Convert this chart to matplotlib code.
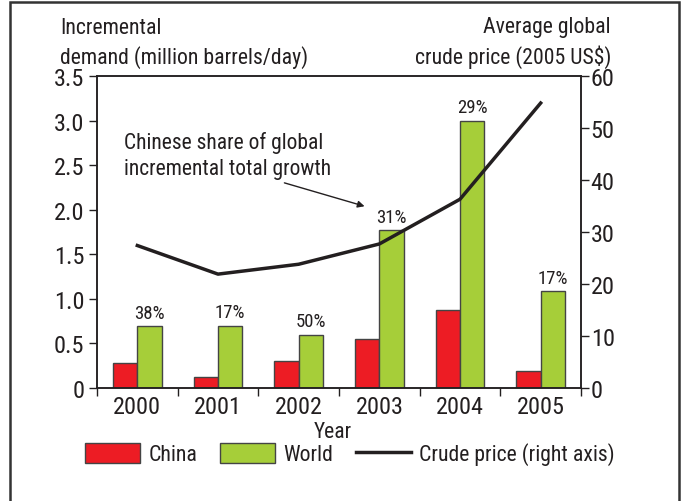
import numpy as np
import matplotlib.pyplot as plt
from matplotlib import font_manager
from matplotlib.patches import Patch, Rectangle
from matplotlib.lines import Line2D

# escolhe uma fonte estreita, se houver
fontes = font_manager.fontManager.ttflist
nomes = {f.name for f in fontes}
estreita = [f for f in fontes if f.name == 'DejaVu Sans' and 'condensed' in str(f.stretch)]
if 'Liberation Sans Narrow' in nomes:
    plt.rcParams['font.family'] = ['Liberation Sans Narrow', 'DejaVu Sans']
elif 'Roboto Condensed' in nomes:
    plt.rcParams['font.family'] = ['Roboto Condensed', 'DejaVu Sans']
elif estreita:
    plt.rcParams['font.family'] = ['DejaVu Sans']
    plt.rcParams['font.stretch'] = 'condensed'
else:
    plt.rcParams['font.family'] = ['Roboto', 'DejaVu Sans']

anos = ['2000', '2001', '2002', '2003', '2004', '2005']
china = [0.28, 0.12, 0.30, 0.55, 0.87, 0.19]
mundo = [0.69, 0.70, 0.60, 1.77, 3.00, 1.09]
preco = [27.4, 21.9, 23.8, 27.7, 36.3, 54.8]
parcela = ['38%', '17%', '50%', '31%', '29%', '17%']

vermelho = '#ED1C24'
verde = '#A6CE39'
borda = '#444444'
tinta = '#231f20'

W, H = 684, 502
fig = plt.figure(figsize=(W/100, H/100), dpi=100)
ax = fig.add_axes([97/W, 113/H, 484/W, 312/H])

x = np.arange(len(anos))
w = 0.3
ax.bar(x - w/2, china, w, color=vermelho, edgecolor=borda, linewidth=1)
ax.bar(x + w/2, mundo, w, color=verde, edgecolor=borda, linewidth=1)
for xi, v, p in zip(x, mundo, parcela):
    ax.annotate(p, (xi + w/2, v), xytext=(0, 3), textcoords='offset points',
                ha='center', va='bottom', fontsize=13.5, color=tinta)

ax.set_xlim(-0.5, 5.5)
ax.set_ylim(0, 3.5)
ax.set_yticks([0, 0.5, 1.0, 1.5, 2.0, 2.5, 3.0, 3.5])
ax.set_yticklabels(['0', '0.5', '1.0', '1.5', '2.0', '2.5', '3.0', '3.5'])
ax.set_xticks(x)
ax.set_xticklabels(anos)
ax.set_xticks(np.arange(-0.5, 6.0, 1.0), minor=True)
ax.tick_params(axis='x', which='major', length=0, pad=5, labelsize=17.5, labelcolor=tinta)
ax.tick_params(axis='x', which='minor', length=6, width=1, direction='out', color=tinta)
ax.tick_params(axis='y', length=6, width=1, labelsize=17.5, pad=3, color=tinta, labelcolor=tinta)
for s in ax.spines.values():
    s.set_linewidth(1.1)
    s.set_color(tinta)

ax2 = ax.twinx()
ax2.plot(x, preco, color=tinta, linewidth=2.5)
ax2.set_ylim(0, 60)
ax2.set_yticks(np.arange(0, 61, 10))
ax2.tick_params(axis='y', length=6, width=1, labelsize=17.5, pad=1, color=tinta, labelcolor=tinta)
for s in ax2.spines.values():
    s.set_linewidth(1.1)
    s.set_color(tinta)

fig.text(333/W, 1 - 438/H, 'Year', fontsize=15.5, ha='center', va='baseline', color=tinta)

# anotação (va='baseline' usa a última linha)
ax.annotate('', xy=(2.85, 2.03), xytext=(1.79, 2.31),
            arrowprops=dict(arrowstyle='-|>', lw=1, color=tinta, mutation_scale=10))
ax.text(-0.165, (389 - 175)/89.14, 'Chinese share of global\nincremental total growth',
        fontsize=15.5, va='baseline', ha='left', linespacing=1.32, color=tinta)

fig.text(60/W, 1 - 64/H, 'Incremental\ndemand (million barrels/day)',
         fontsize=15.7, va='baseline', ha='left', linespacing=1.4, color=tinta)
fig.text(611/W, 1 - 64/H, 'Average global\ncrude price (2005 US$)',
         fontsize=15.7, va='baseline', ha='right', multialignment='right',
         linespacing=1.4, color=tinta)

handles = [Patch(facecolor=vermelho, edgecolor=borda, linewidth=1),
           Patch(facecolor=verde, edgecolor=borda, linewidth=1),
           Line2D([0], [0], color=tinta, linewidth=2.5)]
fig.legend(handles, ['China', 'World', 'Crude price (right axis)'],
           loc='center', bbox_to_anchor=(350/W, 1 - 455/H), ncol=3,
           frameon=False, fontsize=15.7, handlelength=2.5, handleheight=1.07,
           handletextpad=0.4, columnspacing=1.05, borderpad=0, labelcolor=tinta)

fig.patches.append(Rectangle((10/W, -0.1), 669/W, 1.1 - 3/H,
                             transform=fig.transFigure, fill=False,
                             edgecolor='#333333', linewidth=1.8))

fig.savefig('out.png', dpi=100)
